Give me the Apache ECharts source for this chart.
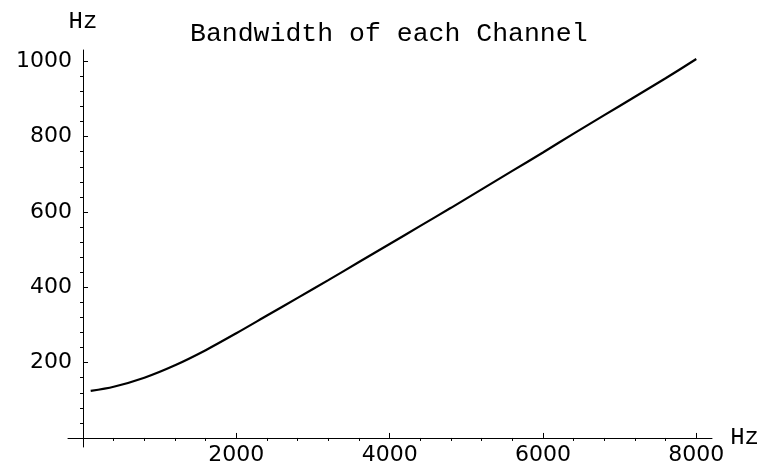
<!DOCTYPE html>
<html>
<head>
<meta charset="utf-8">
<script src="https://cdn.jsdelivr.net/npm/echarts@6/dist/echarts.min.js"></script>
<style>
html,body{margin:0;padding:0;background:#fff;}
#chart{width:757px;height:466px;}
</style>
</head>
<body>
<div id="chart"></div>
<script>
var freqHz = [100, 400, 800, 1200, 1600, 2000, 2400, 2800, 3200, 3600, 4000, 4400, 4800, 5200, 5600, 6000, 6400, 6800, 7200, 7600, 8000];
var bandwidthHz = [125, 136, 160, 193, 233, 278, 325, 372, 419, 467, 515, 563, 611, 660, 709, 758, 808, 857, 906, 955, 1006];
var xMajorTicks = [2000, 4000, 6000, 8000];
var xMinorTicks = [400, 800, 1200, 1600, 2400, 2800, 3200, 3600, 4400, 4800, 5200, 5600, 6400, 6800, 7200, 7600];
var yMajorTicks = [200, 400, 600, 800, 1000];
var yMinorTicks = [40, 80, 120, 160, 240, 280, 320, 360, 440, 480, 520, 560, 640, 680, 720, 760, 840, 880, 920, 960];
var titleText = 'Bandwidth of each Channel';
var axisUnit = 'Hz';

var FONT = 'Liberation Mono';
var LABEL_FONT = 'DejaVu Sans';
var chart = echarts.init(document.getElementById('chart'), null, {renderer: 'canvas'});
var data = freqHz.map(function (f, i) { return [f, bandwidthHz[i]]; });

var xMin = -196, xMax = 8205, yMin = -24, yMax = 1030;
function plain(v) { return String(v); }

chart.setOption({
  backgroundColor: '#ffffff',
  animation: false,
  title: {
    text: titleText,
    left: 185,
    top: 15,
    textStyle: {fontFamily: FONT, fontSize: 26.5, fontWeight: 'normal', color: '#000'}
  },
  grid: {left: 68, right: 45, top: 50, bottom: 19, containLabel: false, outerBoundsMode: 'none'},
  xAxis: [{
    type: 'value', min: xMin, max: xMax,
    splitLine: {show: false},
    axisLine: {show: true, onZero: true, lineStyle: {color: '#000', width: 1}},
    axisTick: {show: true, inside: true, length: 5, customValues: xMajorTicks, lineStyle: {color: '#000', width: 1}},
    axisLabel: {show: true, customValues: xMajorTicks, formatter: plain, margin: -3, fontFamily: LABEL_FONT, fontSize: 22, color: '#000'},
    name: axisUnit, nameLocation: 'end', nameGap: 5,
    nameTextStyle: {fontFamily: FONT, fontSize: 24, color: '#000', verticalAlign: 'middle'}
  }, {
    type: 'value', min: xMin, max: xMax,
    splitLine: {show: false},
    axisLine: {show: false, onZero: true},
    axisTick: {show: true, inside: true, length: 3, customValues: xMinorTicks, lineStyle: {color: '#000', width: 1}},
    axisLabel: {show: false}
  }],
  yAxis: [{
    type: 'value', min: yMin, max: yMax,
    splitLine: {show: false},
    axisLine: {show: true, onZero: true, lineStyle: {color: '#000', width: 1}},
    axisTick: {show: true, inside: true, length: 5, customValues: yMajorTicks, lineStyle: {color: '#000', width: 1}},
    axisLabel: {show: true, customValues: yMajorTicks, formatter: plain, margin: -4, fontFamily: LABEL_FONT, fontSize: 22, color: '#000'},
    name: axisUnit, nameLocation: 'end', nameGap: 16,
    nameTextStyle: {fontFamily: FONT, fontSize: 24, color: '#000', align: 'center'}
  }, {
    type: 'value', min: yMin, max: yMax,
    splitLine: {show: false},
    axisLine: {show: false, onZero: true},
    axisTick: {show: true, inside: true, length: 3, customValues: yMinorTicks, lineStyle: {color: '#000', width: 1}},
    axisLabel: {show: false}
  }],
  series: [{
    type: 'line',
    data: data,
    xAxisIndex: 0, yAxisIndex: 0,
    smooth: 0.3,
    showSymbol: false,
    symbol: 'none',
    lineStyle: {color: '#000', width: 2.2}
  }]
});
</script>
</body>
</html>
